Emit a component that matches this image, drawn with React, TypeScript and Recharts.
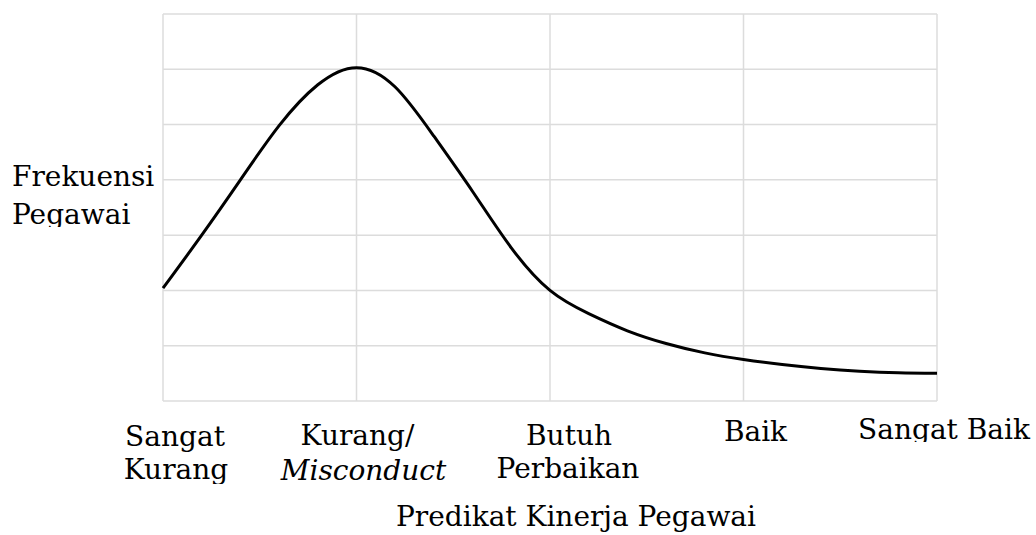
import React from "react";
import { LineChart, Line, XAxis, YAxis, CartesianGrid, Customized } from "recharts";

// ---- data ----
const categories = ["Sangat Kurang", "Kurang/ Misconduct", "Butuh Perbaikan", "Baik", "Sangat Baik"];
const categoryLines = [["Sangat", "Kurang"], ["Kurang/", "Misconduct"], ["Butuh", "Perbaikan"], ["Baik"], ["Sangat Baik"]];
const categoryTicks = [0, 1, 2, 3, 4];
const positions = [0, 0.2, 0.4, 0.6, 0.8, 1.0, 1.2, 1.4, 1.6, 1.8, 2.0, 2.2, 2.4, 2.6, 2.8, 3.0, 3.2, 3.4, 3.6, 3.8, 4.0];
const frequency = [2.04, 3.0, 4.0, 4.98, 5.72, 6.03, 5.68, 4.79, 3.79, 2.77, 2.0, 1.58, 1.27, 1.04, 0.87, 0.75, 0.66, 0.59, 0.54, 0.51, 0.5];
const yTicks = [0, 1, 2, 3, 4, 5, 6, 7];
const yLabelLines = ["Frekuensi", "Pegawai"];
const xTitle = "Predikat Kinerja Pegawai";

const data = positions.map((p, i) => ({ pos: p, freq: frequency[i] }));

// ---- layout ----
const W = 1036;
const H = 535;
const FONT = "'DejaVu Serif', serif";
const line1Dx = [12, 1, 19, 12, 7];
const line2Dx = [13, 7, 18];
const line1Base = [446, 445, 445, 441, 439];
const line2Base = [479, 480, 478];
const clipBottom: (number | null)[] = [484, null, null, null, 442];

const CategoryTick = (props: any) => {
  const { x, index } = props;
  const lines = categoryLines[index] || [];
  const clipId = `tick-clip-${index}`;
  const cb = clipBottom[index];
  return (
    <g>
      {cb !== null && (
        <defs>
          <clipPath id={clipId}>
            <rect x={0} y={0} width={W} height={cb} />
          </clipPath>
        </defs>
      )}
      <g clipPath={cb !== null ? `url(#${clipId})` : undefined}>
        {lines.map((t, li) => (
          <text
            key={li}
            x={x + (li === 0 ? line1Dx[index] : line2Dx[index])}
            y={li === 0 ? line1Base[index] : line2Base[index]}
            textAnchor="middle"
            fontFamily={FONT}
            fontSize={28}
            fontStyle={index === 1 && li === 1 ? "italic" : "normal"}
            fill="#000"
          >
            {t}
          </text>
        ))}
      </g>
    </g>
  );
};

const Labels = () => (
  <g>
    <defs>
      <clipPath id="ylabel-clip">
        <rect x={0} y={0} width={160} height={227} />
      </clipPath>
    </defs>
    <g clipPath="url(#ylabel-clip)">
      {yLabelLines.map((t, i) => (
        <text key={i} x={12} y={186 + i * 38} fontFamily={FONT} fontSize={28} fill="#000">
          {t}
        </text>
      ))}
    </g>
    <text x={576} y={526} textAnchor="middle" fontFamily={FONT} fontSize={28} fill="#000">
      {xTitle}
    </text>
  </g>
);

export default function App() {
  return (
    <div style={{ position: "absolute", left: 0, top: 0, width: W, height: H, background: "#fff" }}>
      <LineChart width={W} height={H} data={data} margin={{ top: 14, right: 99, bottom: 104, left: 163 }}>
        <CartesianGrid stroke="#dcdcdc" strokeWidth={1.5} />
        <XAxis
          dataKey="pos"
          type="number"
          domain={[0, 4]}
          ticks={categoryTicks}
          interval={0}
          axisLine={false}
          tickLine={false}
          height={30}
          tick={<CategoryTick />}
        />
        <YAxis type="number" domain={[0, 7]} ticks={yTicks} hide width={0} />
        <Line
          type="natural"
          dataKey="freq"
          stroke="#000"
          strokeWidth={3}
          dot={false}
          isAnimationActive={false}
        />
        <Customized component={Labels} />
      </LineChart>
    </div>
  );
}
